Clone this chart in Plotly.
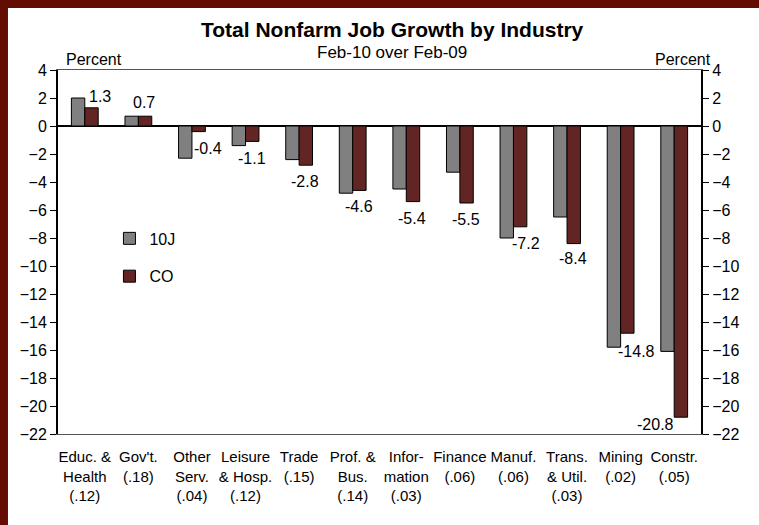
import plotly.graph_objects as go

industries = ['Educ. &<br>Health<br>(.12)', "Gov't.<br>(.18)", 'Other<br>Serv.<br>(.04)',
              'Leisure<br>& Hosp.<br>(.12)', 'Trade<br>(.15)', 'Prof. &<br>Bus.<br>(.14)',
              'Infor-<br>mation<br>(.03)', 'Finance<br>(.06)', 'Manuf.<br>(.06)',
              'Trans.<br>& Util.<br>(.03)', 'Mining<br>(.02)', 'Constr.<br>(.05)']
us_10j = [2.0, 0.7, -2.3, -1.4, -2.4, -4.8, -4.5, -3.3, -8.0, -6.5, -15.8, -16.1]
co = [1.3, 0.7, -0.4, -1.1, -2.8, -4.6, -5.4, -5.5, -7.2, -8.4, -14.8, -20.8]

# pixel nudges for the CO value labels (relative to category centre / bar end)
label_dx = [15, 6, 16, 6.5, 6, 6.6, 6, 6, 13, 6.3, 16, -19]
label_dy = [11, 14, -16.4, -16.6, -16.5, -15.6, -16.7, -16.3, -16.5, -14.7, -18.5, -7]

FONT = 'Liberation Sans, Arial, sans-serif'
GREY = '#808080'
MAROON = '#632523'
FRAME = '#620c02'

fig = go.Figure()
fig.add_trace(go.Bar(x=industries, y=us_10j, name='10J', legendgroup='a',
                     marker=dict(color=GREY, line=dict(color='black', width=1))))
fig.add_trace(go.Bar(x=industries, y=co, name='CO', legendgroup='b',
                     marker=dict(color=MAROON, line=dict(color='black', width=1))))
# carry the right-hand axis
fig.add_trace(go.Scatter(x=industries, y=co, yaxis='y2', mode='none',
                         showlegend=False, hoverinfo='skip'))

for cat, val, dx, dy in zip(industries, co, label_dx, label_dy):
    fig.add_annotation(x=cat, y=val, text=f'{val:.1f}', showarrow=False,
                       xshift=dx, yshift=dy, xanchor='center', yanchor='middle',
                       font=dict(size=16, color='black', family=FONT))

fig.add_annotation(x=0.52, y=1.11, xref='paper', yref='paper',
                   text='<b>Total Nonfarm Job Growth by Industry</b>', showarrow=False,
                   xanchor='center', yanchor='middle',
                   font=dict(size=21, color='black', family=FONT))
fig.add_annotation(x=0.52, y=1.047, xref='paper', yref='paper',
                   text='Feb-10 over Feb-09', showarrow=False,
                   xanchor='center', yanchor='middle',
                   font=dict(size=17, color='black', family=FONT))
fig.add_annotation(x=0.056, y=1.03, xref='paper', yref='paper', text='Percent',
                   showarrow=False, xanchor='center', yanchor='middle',
                   font=dict(size=16, color='black', family=FONT))
fig.add_annotation(x=0.972, y=1.03, xref='paper', yref='paper', text='Percent',
                   showarrow=False, xanchor='center', yanchor='middle',
                   font=dict(size=16, color='black', family=FONT))

# dark red frame at the left and top of the page
fig.add_shape(type='rect', xref='paper', yref='paper', x0=-0.1, x1=-0.0778,
              y0=-0.3, y1=1.25, fillcolor=FRAME, line=dict(width=0), layer='below')
fig.add_shape(type='rect', xref='paper', yref='paper', x0=-0.1, x1=1.2,
              y0=1.17, y1=1.25, fillcolor=FRAME, line=dict(width=0), layer='below')

axis_font = dict(size=16, color='black', family=FONT)
fig.update_layout(
    width=759, height=525,
    margin=dict(l=58, r=58, t=70, b=91),
    paper_bgcolor='white', plot_bgcolor='white',
    barmode='group', bargap=0.5, bargroupgap=0,
    font=dict(family=FONT, color='black'),
    xaxis=dict(showgrid=False, showline=True, linecolor='#555555', linewidth=1,
               mirror=True, ticks='', tickfont=dict(size=15, color='black', family=FONT),
               tickangle=0, ticklabelstandoff=9),
    yaxis=dict(range=[-22, 4], dtick=2, showgrid=False, showline=True,
               linecolor='black', linewidth=2, ticks='outside', ticklen=6,
               tickcolor='black', tickfont=axis_font, zeroline=True,
               zerolinecolor='black', zerolinewidth=2),
    yaxis2=dict(range=[-22, 4], dtick=2, overlaying='y', side='right',
                showgrid=False, showline=True, linecolor='black', linewidth=2,
                ticks='outside', ticklen=6, tickcolor='black', tickfont=axis_font,
                zeroline=False),
    showlegend=True,
    legend=dict(x=0.08, y=0.485, xanchor='left', yanchor='middle',
                bgcolor='rgba(0,0,0,0)', font=dict(size=16, color='black', family=FONT),
                tracegroupgap=14, itemwidth=30),
)

# the page's default body margin would push the figure 8px off the corner
fig.write_html('out.html', config={'displayModeBar': False},
               post_script="document.body.style.margin='0px';")
